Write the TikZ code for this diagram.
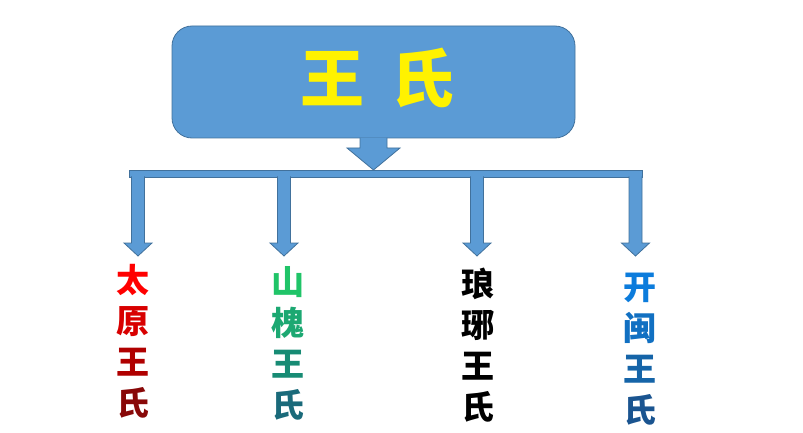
\documentclass[tikz,border=0pt]{standalone}
\usepackage{fontspec}
\newfontfamily\cjk{Noto Sans CJK SC}
\usetikzlibrary{calc}

\definecolor{boxblue}{HTML}{5B9BD5}
\definecolor{boxline}{HTML}{41719C}
\definecolor{tyA}{HTML}{FF0000}
\definecolor{tyB}{HTML}{D80000}
\definecolor{tyC}{HTML}{B00000}
\definecolor{tyD}{HTML}{880808}
\definecolor{shA}{HTML}{20C468}
\definecolor{shB}{HTML}{1CA872}
\definecolor{shC}{HTML}{178B74}
\definecolor{shD}{HTML}{1A6A7A}
\definecolor{kmA}{HTML}{0C7CDC}
\definecolor{kmB}{HTML}{1170C2}
\definecolor{kmC}{HTML}{1564A8}
\definecolor{kmD}{HTML}{1A5490}

% block arrow: #1 top, #2 tip, #3 half shaft, #4 half head, #5 head length
\newcommand\blockdown[5]{
  \fill[boxblue] ($(#1)+(-#3,0)$) -- ($(#2)+(-#3,-#5)$) -- ($(#2)+(-#4,-#5)$) -- (#2)
    -- ($(#2)+(#4,-#5)$) -- ($(#2)+(#3,-#5)$) -- ($(#1)+(#3,0)$) -- cycle;
  \draw[barrow] ($(#1)+(-#3,0)$) -- ($(#2)+(-#3,-#5)$) -- ($(#2)+(-#4,-#5)$) -- (#2)
    -- ($(#2)+(#4,-#5)$) -- ($(#2)+(#3,-#5)$) -- ($(#1)+(#3,0)$);
}

\begin{document}
\begin{tikzpicture}[x=1pt,y=-1pt,
    barrow/.style={draw=boxline,line width=0.8pt,line join=miter},
    clan/.style={font=\cjk\bfseries\fontsize{33}{41}\selectfont,align=center,inner sep=0pt}]
  \useasboundingbox (0,0) rectangle (803,433);

  \node[fill=boxblue,barrow,rounded corners=20pt,minimum width=403pt,minimum height=112pt]
        (wang) at (373.5,82) {};
  \node[text=yellow,font=\cjk\bfseries\fontsize{64}{64}\selectfont,inner sep=0pt]
        (wangtext) at ($(wang.center)+(4,-4)$) {王\hspace{26pt}氏};

  \node[fill=boxblue,barrow,minimum width=513pt,minimum height=7pt,inner sep=0pt,
        anchor=north west] (bar) at (129,170) {};

  \coordinate (mtop) at ($(wang.south)+(0,-0.6)$);
  \coordinate (mtip) at (wang.south |- bar.north);
  \blockdown{mtop}{mtip}{13.5}{26.5}{22}

  \foreach \x/\n in {138/1,284/2,477/3,635.5/4}{
    \coordinate (b\n) at (\x,176.4);
    \coordinate (e\n) at (\x,256);
    \blockdown{b\n}{e\n}{6.5}{14}{13}
  }

  \node[clan] (taiyuan) at (133,341) {{\color{tyA}太}\\{\color{tyB}原}\\{\color{tyC}王}\\{\color{tyD}氏}};
  \node[clan] (shanhuai) at (288,343) {{\color{shA}山}\\{\color{shB}槐}\\{\color{shC}王}\\{\color{shD}氏}};
  \node[clan] (langya) at (478,345) {琅\\琊\\王\\氏};
  \node[clan] (kaimin) at (640,349) {{\color{kmA}开}\\{\color{kmB}闽}\\{\color{kmC}王}\\{\color{kmD}氏}};
\end{tikzpicture}
\end{document}
